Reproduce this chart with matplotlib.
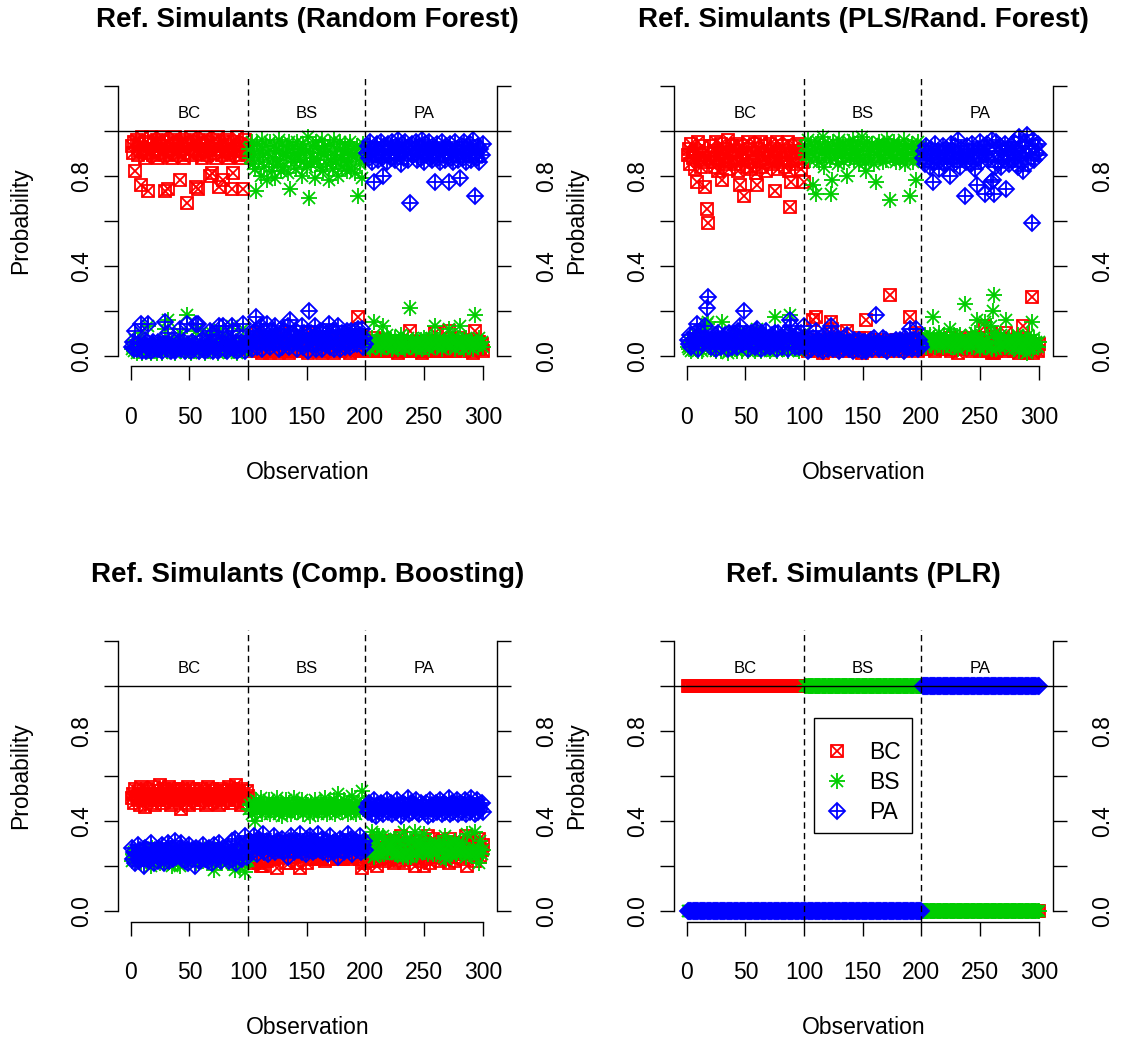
import numpy as np
import matplotlib.pyplot as plt
from matplotlib.lines import Line2D
from matplotlib.legend_handler import HandlerTuple
from matplotlib.patches import Rectangle

plt.rcParams['font.family'] = ['Liberation Sans', 'DejaVu Sans']


def pct(s):
    v = np.array(s.split(), dtype=float) / 100.0
    assert len(v) == 300
    return v


obs = np.arange(1, 301)
classes = ['BC', 'BS', 'PA']
colors = {'BC': '#FF0000', 'BS': '#00CD00', 'PA': '#0000FF'}

# class probabilities per observation (in %), true class: 1-100 BC, 101-200 BS, 201-300 PA
rf_bc = pct("""
93 90 95 82 96 89 94 91 76 97 92 88 95 90 73 94 97 91 89 95
92 96 88 94 90 93 97 91 73 89 95 74 92 96 88 93 90 97 94 91
89 78 95 92 88 96 93 68 90 94 97 89 92 95 91 75 74 96 90 93
88 94 97 91 89 95 92 80 81 96 90 93 88 97 75 94 92 89 78 95
91 96 88 93 90 74 81 95 92 89 97 91 94 88 93 74 96 90 92 89
3 4 2 5 3 6 10 2 4 3 7 1 4 5 2 8 3 6 1 7
5 2 8 3 6 1 4 6 2 4 5 3 2 6 1 10 4 2 5 3
6 2 4 5 2 7 2 4 3 6 1 10 3 5 2 4 8 2 4 3
5 4 1 7 4 2 5 3 8 2 5 6 1 3 4 3 7 2 4 6
3 5 2 7 4 5 1 6 4 3 8 4 2 17 6 3 9 2 5 3
4 3 5 2 4 6 8 2 5 2 6 3 2 4 7 3 4 5 2 4
3 5 2 4 5 3 5 1 3 6 2 4 6 2 3 5 3 11 4 2
5 3 2 6 3 3 5 1 4 6 2 4 3 2 5 4 5 2 10 4
2 5 4 6 2 5 3 6 2 4 11 2 5 3 6 2 5 3 5 4
8 3 5 2 4 6 3 5 2 7 3 1 11 4 6 3 6 3 5 2
""")
rf_bs = pct("""
3 4 2 7 1 6 2 5 10 1 3 5 3 4 13 2 1 4 5 2
4 1 6 3 5 3 1 4 12 6 2 16 3 2 5 3 6 1 3 4
5 10 2 4 6 2 3 18 5 2 1 5 4 2 4 11 12 2 4 3
5 3 1 5 5 2 4 9 10 2 4 3 6 1 12 3 3 5 9 2
4 2 5 3 4 13 8 2 4 5 1 4 3 6 3 12 2 5 3 5
92 88 95 85 90 83 73 94 87 91 80 96 89 84 93 78 90 86 95 82
88 93 79 91 85 96 87 82 94 90 84 89 92 81 95 74 88 93 86 90
83 95 89 87 92 80 94 86 91 84 97 70 90 85 93 88 79 95 87 92
84 90 96 82 89 93 85 91 78 94 87 83 96 89 86 92 80 95 88 84
91 87 94 82 90 86 95 83 89 92 81 88 93 71 85 90 79 94 87 92
6 4 7 3 5 8 15 6 6 4 7 6 3 8 13 4 6 9 4 7
5 7 3 6 8 4 6 3 6 9 4 6 6 3 5 8 4 21 6 4
6 5 3 7 6 4 7 3 6 8 4 7 5 3 7 5 8 5 13 6
4 7 5 8 3 6 5 7 5 6 12 4 7 6 8 3 6 5 8 6
13 4 7 3 6 8 5 6 4 6 6 3 18 6 6 4 8 5 6 4
""")
rf_pa = pct("""
4 6 3 11 3 5 4 4 14 2 5 7 2 6 14 4 2 5 6 3
4 3 6 3 5 4 2 5 15 5 3 10 5 2 7 4 4 2 3 5
6 12 3 4 6 2 4 14 5 4 2 6 4 3 5 14 14 2 6 4
7 3 2 4 6 3 4 11 9 2 6 4 6 2 13 3 5 6 13 3
5 2 7 4 6 13 11 3 4 6 2 5 3 6 4 14 2 5 5 6
5 8 3 10 7 11 17 4 9 6 13 3 7 11 5 14 7 8 4 11
7 5 13 6 9 3 9 12 4 6 11 8 6 13 4 16 8 5 9 7
11 3 7 8 6 13 4 10 6 10 2 20 7 10 5 8 13 3 9 5
11 6 3 11 7 5 10 6 14 4 8 11 3 8 10 5 13 3 8 10
6 8 4 11 6 9 4 11 7 5 11 8 5 12 9 7 12 4 8 5
90 93 88 95 91 86 77 92 89 94 87 91 95 88 80 93 90 86 94 89
92 88 95 90 87 93 89 96 91 85 94 90 88 95 92 87 93 68 90 94
89 92 95 87 91 93 88 96 90 86 94 89 92 95 88 91 87 93 77 90
94 88 91 86 95 89 92 87 93 90 77 94 88 91 86 95 89 92 87 90
79 93 88 95 90 86 92 89 94 87 91 96 71 90 88 93 86 92 89 94
""")

pls_bc = pct("""
89 92 85 94 88 90 83 91 77 95 87 84 93 89 86 75 65 59 90 88
93 86 91 84 95 88 82 90 94 78 87 92 85 89 96 83 90 86 93 88
91 85 94 82 76 89 93 87 71 90 84 95 88 92 83 90 86 94 81 76
92 87 95 84 90 88 93 82 91 86 94 89 85 92 73 88 95 83 90 87
93 86 91 84 89 95 82 66 77 90 87 93 85 91 88 94 83 90 86 77
3 5 2 4 6 3 5 16 3 17 5 2 7 3 6 1 7 4 5 3
4 6 15 12 2 5 6 3 7 2 4 5 3 6 4 5 11 2 6 3
5 2 6 4 5 3 8 4 1 6 3 8 16 2 5 4 6 3 4 7
5 3 5 2 7 4 6 3 5 6 2 4 27 5 3 6 2 7 4 5
3 6 4 5 2 7 4 6 3 17 5 3 7 4 10 5 2 6 4 3
5 4 6 3 5 4 7 3 5 6 6 2 5 4 7 4 6 3 6 5
3 6 4 8 2 5 4 6 3 5 1 5 7 3 5 4 6 8 3 5
4 6 2 5 4 7 8 3 5 2 6 4 3 13 5 2 5 4 10 1
2 1 6 2 6 4 3 7 4 5 2 10 5 3 7 4 3 5 2 5
4 7 1 5 6 3 13 2 4 1 6 3 5 26 1 5 3 4 2 5
""")
pls_bs = pct("""
4 3 6 2 5 4 7 3 9 2 5 6 2 4 6 12 14 15 4 5
3 6 3 7 2 4 8 4 2 15 5 3 6 4 1 7 4 5 3 5
3 6 2 7 11 4 2 5 9 4 6 2 5 3 7 4 5 2 8 12
3 5 2 6 4 5 3 7 3 6 2 4 6 3 17 5 2 7 4 5
3 6 3 6 4 2 8 18 10 4 5 3 6 3 5 2 7 4 6 10
93 89 96 91 87 94 90 76 92 72 88 95 86 93 90 97 84 91 89 94
92 87 72 78 95 90 88 93 85 96 91 89 94 86 92 90 80 95 88 93
90 96 87 92 89 94 85 91 97 88 93 86 82 95 89 92 87 94 91 85
77 93 89 95 88 92 86 94 90 87 96 91 69 89 93 88 95 86 92 90
94 87 91 89 96 85 92 88 93 71 90 94 86 92 78 89 95 87 91 93
7 5 9 4 8 6 9 5 6 17 8 4 7 5 10 6 7 4 9 6
5 8 6 12 4 7 5 9 4 8 3 6 9 5 7 6 23 6 4 6
5 9 4 8 6 10 16 5 7 3 8 6 4 15 6 4 8 5 13 3
20 27 10 3 8 6 4 9 5 8 4 16 6 5 8 6 4 8 3 7
5 9 2 6 8 4 5 3 6 1 9 5 7 15 3 8 4 6 4 6
""")
pls_pa = pct("""
7 5 9 4 7 6 10 6 14 3 8 10 5 7 8 13 21 26 6 7
4 8 6 9 3 8 10 6 4 7 8 5 9 7 3 10 6 9 4 7
6 9 4 11 13 7 5 8 20 6 10 3 7 5 10 6 9 4 11 12
5 8 3 10 6 7 4 11 6 8 4 7 9 5 10 7 3 10 6 8
4 8 6 10 7 3 10 16 13 6 8 4 9 6 7 4 10 6 8 13
4 6 2 5 7 3 5 8 5 11 7 3 7 4 4 2 9 5 6 3
4 7 13 10 3 5 6 4 8 2 5 6 3 8 4 5 9 3 6 4
5 2 7 4 6 3 7 5 2 6 4 6 2 3 6 4 7 3 5 8
18 4 6 3 5 4 8 3 5 7 2 5 4 6 4 6 3 7 4 5
3 7 5 6 2 8 4 6 4 12 5 3 7 4 12 6 3 7 5 4
88 91 85 93 87 90 84 92 89 77 86 94 88 91 83 90 87 93 85 89
92 86 90 80 94 88 91 85 93 87 96 89 84 92 88 90 71 86 93 89
91 85 94 87 90 83 76 92 88 95 86 90 93 72 89 94 87 91 77 96
78 72 84 95 86 90 93 84 91 87 94 74 89 92 85 90 93 87 95 88
91 84 97 89 86 93 82 95 90 98 85 92 88 59 96 87 93 90 94 89
""")

cb_bc = pct("""
50 52 48 54 51 49 53 47 55 50 52 46 51 54 49 53 50 48 52 55
47 51 53 49 56 52 48 54 50 51 53 49 55 47 52 50 54 48 51 53
49 52 45 54 50 53 48 51 55 47 52 50 54 49 53 51 48 52 50 54
51 49 53 47 52 55 50 48 54 51 53 49 52 50 47 54 51 53 48 52
50 53 49 55 51 48 54 52 50 56 49 53 51 47 54 52 50 48 53 51
27 22 31 22 21 31 22 31 21 27 20 30 20 26 27 22 30 23 27 27
23 23 27 27 19 30 24 25 26 24 29 21 28 30 21 28 24 24 24 26
26 21 29 19 26 25 27 26 27 21 26 25 25 23 28 25 23 28 23 23
27 23 24 27 25 22 26 29 23 23 26 25 25 26 26 23 24 23 26 26
23 25 26 25 23 25 24 24 24 26 25 26 25 24 23 27 19 26 21 27
24 28 22 30 26 22 27 25 31 20 29 23 27 26 24 28 22 25 30 25
27 23 31 21 29 24 26 30 22 33 25 28 21 27 24 26 30 23 28 25
28 20 25 31 24 27 22 29 26 20 30 23 33 25 21 28 24 32 26 27
29 24 27 22 31 25 28 23 30 26 21 32 24 27 29 22 30 25 28 24
26 30 23 28 25 33 20 27 31 24 29 26 22 30 25 28 32 24 27 29
""")
cb_bs = pct("""
22 25 26 25 24 22 25 26 21 24 28 26 24 23 24 25 20 28 22 24
26 24 25 23 21 22 23 25 25 22 23 21 23 27 20 27 21 21 25 21
26 20 25 23 24 25 25 25 24 24 23 23 23 25 27 21 27 26 23 22
23 22 24 26 23 23 22 28 25 23 18 26 25 23 23 22 27 21 24 23
23 23 23 23 23 21 23 23 18 23 24 23 20 27 23 23 17 22 23 22
45 47 43 48 46 40 49 44 47 45 50 43 46 48 44 47 45 49 43 46
48 44 47 45 50 43 46 48 42 47 45 49 44 46 48 45 43 47 50 44
46 48 44 47 45 49 43 46 48 47 47 45 42 48 46 44 49 45 47 43
46 48 44 47 45 50 43 46 48 44 47 45 49 43 46 48 52 45 47 44
46 49 45 47 43 48 46 44 51 45 47 43 48 46 44 47 53 45 48 46
30 28 30 25 27 35 24 30 27 33 25 33 25 29 33 25 32 26 26 29
28 29 26 32 25 32 25 25 31 25 29 24 35 26 31 24 27 31 24 31
25 35 26 25 30 30 30 26 27 34 26 29 25 29 30 27 29 25 28 25
27 29 28 29 26 29 24 33 23 29 29 25 30 25 27 31 25 26 29 30
26 26 30 27 26 24 34 25 25 26 26 27 35 24 26 28 21 31 25 27
""")
cb_pa = pct("""
28 23 26 21 25 29 22 27 24 26 20 28 25 23 27 22 30 24 26 21
27 25 22 28 23 26 29 21 25 27 24 30 22 26 28 23 25 31 24 26
25 28 30 23 26 22 27 24 21 29 25 27 23 26 20 28 25 22 27 24
26 29 23 27 25 22 28 24 21 26 29 25 23 27 30 24 22 26 28 25
27 24 28 22 26 31 23 25 32 21 27 24 29 26 23 25 33 30 24 27
28 31 26 30 33 29 29 25 32 28 30 27 34 26 29 31 25 28 30 27
29 33 26 28 31 27 30 27 32 29 26 30 28 24 31 27 33 29 26 30
28 31 27 34 29 26 30 28 25 32 27 30 33 29 26 31 28 27 30 34
27 29 32 26 30 28 31 25 29 33 27 30 26 31 28 29 24 32 27 30
31 26 29 28 34 27 30 32 25 29 28 31 27 30 33 26 28 29 31 27
46 44 48 45 47 43 49 45 42 47 46 44 48 45 43 47 46 49 44 46
45 48 43 47 46 44 49 45 47 42 46 48 44 47 45 50 43 46 48 44
47 45 49 44 46 43 48 45 47 46 44 48 42 46 49 45 47 43 46 48
44 47 45 49 43 46 48 44 47 45 50 43 46 48 44 47 45 49 43 46
48 44 47 45 49 43 46 48 44 50 45 47 43 46 49 44 47 45 48 44
""")

plr_bc = np.array([1.0] * 100 + [0.0] * 200)
plr_bs = np.array([0.0] * 100 + [1.0] * 100 + [0.0] * 100)
plr_pa = np.array([0.0] * 200 + [1.0] * 100)

panels = [
    ('Ref. Simulants (Random Forest)', [rf_bc, rf_bs, rf_pa]),
    ('Ref. Simulants (PLS/Rand. Forest)', [pls_bc, pls_bs, pls_pa]),
    ('Ref. Simulants (Comp. Boosting)', [cb_bc, cb_bs, cb_pa]),
    ('Ref. Simulants (PLR)', [plr_bc, plr_bs, plr_pa]),
]

# R-style pch symbols built from overlaid matplotlib markers
marker_parts = {
    'BC': [('s', 8.2), ('x', 8.2)],
    'BS': [('+', 11.5), ('x', 8.1)],
    'PA': [('D', 8.2), ('+', 11.6)],
}
MEW = 1.3
FS = 16.5

W, H = 1122, 1042
fig = plt.figure(figsize=(W / 100, H / 100), dpi=100)

ax_w, ax_h = 379 / W, 291.6 / H
lefts = [117.8 / W, 673.8 / W]
bottoms = [1 - 366.5 / H, 1 - 921.5 / H]

yticks = [0.0, 0.2, 0.4, 0.6, 0.8, 1.0, 1.2]
ylabels = ['0.0', '', '0.4', '', '0.8', '', '']

axes = []
for i, (title, probs) in enumerate(panels):
    ax = fig.add_axes([lefts[i % 2], bottoms[i // 2], ax_w, ax_h])
    axes.append(ax)

    for cls, p in zip(classes, probs):
        for m, s in marker_parts[cls]:
            ax.plot(obs, p, ls='none', marker=m, ms=s, mfc='none',
                    mec=colors[cls], mew=MEW)

    ax.axhline(1.0, color='black', lw=1.0, zorder=3)
    for v in (100, 200):
        ax.axvline(v, color='black', lw=1.0, ls=(0, (4.5, 3)), zorder=3)
    for xc, lab in zip([50, 150, 250], classes):
        ax.text(xc, 1.056, lab, ha='center', va='baseline', fontsize=12)

    ax.set_xlim(-11, 312)
    ax.set_ylim(-0.048, 1.248)
    for side in ('top', 'right'):
        ax.spines[side].set_visible(False)
    ax.spines['bottom'].set_bounds(0, 300)
    ax.spines['left'].set_bounds(0, 1.2)
    for sp in ax.spines.values():
        sp.set_linewidth(1.0)

    ax.set_xticks(np.arange(0, 301, 50))
    ax.set_yticks(yticks)
    ax.set_yticklabels(ylabels, rotation=90, va='center')
    ax.tick_params(direction='out', length=10, width=1.0, labelsize=FS)
    ax.tick_params(axis='x', pad=18.4)
    ax.tick_params(axis='y', pad=8)

    ax2 = ax.twinx()
    ax2.set_ylim(-0.048, 1.248)
    for side in ('top', 'left', 'bottom'):
        ax2.spines[side].set_visible(False)
    ax2.spines['right'].set_bounds(0, 1.2)
    ax2.spines['right'].set_linewidth(1.0)
    ax2.set_yticks(yticks)
    ax2.set_yticklabels(ylabels, rotation=90, va='center')
    ax2.tick_params(direction='out', length=10, width=1.0, labelsize=FS, pad=17.7)

    ax.text(0.5, 1 + 54.9 / 291.6, title, transform=ax.transAxes,
            ha='center', va='center', fontsize=20, fontweight='bold')
    ax.text(0.5, -106.2 / 291.6, 'Observation', transform=ax.transAxes,
            ha='center', va='center', fontsize=FS)
    ax.text(-96.8 / 379, 0.5, 'Probability', transform=ax.transAxes,
            ha='center', va='center', rotation=90, fontsize=FS)

# legend on the PLR panel
ax = axes[3]
handles = [tuple(Line2D([], [], ls='none', marker=m, ms=s, mfc='none',
                        mec=colors[c], mew=MEW) for m, s in marker_parts[c])
           for c in classes]
ax.legend(handles, classes, handler_map={tuple: HandlerTuple(ndivide=1)},
          loc='upper left', bbox_to_anchor=(0.3996, 0.619), frameon=False,
          fontsize=FS, handlelength=1.0, handletextpad=0.92,
          labelspacing=0.31, borderpad=0, borderaxespad=0)
ax.add_patch(Rectangle((108.8, 0.347), 83.5, 0.511, fill=False,
                       ec='black', lw=1.0, zorder=4))

fig.savefig('out.png', dpi=100)
